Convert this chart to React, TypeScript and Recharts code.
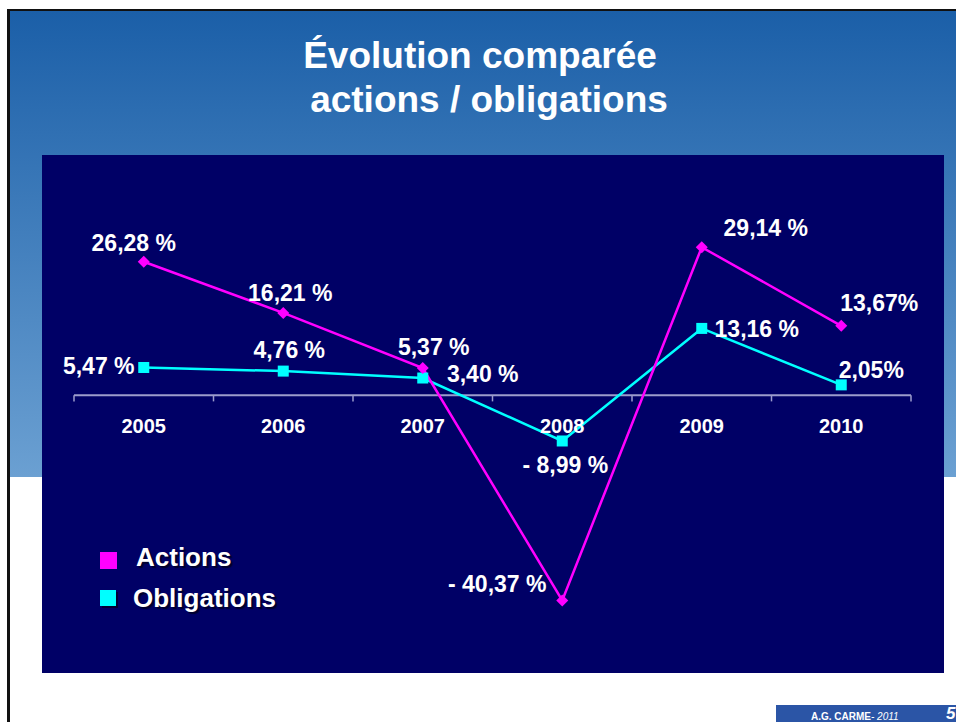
import { LabelList, Legend, Line, LineChart, ReferenceLine, XAxis, YAxis } from "recharts";

const YEARS = ["2005", "2006", "2007", "2008", "2009", "2010"];
const ACTIONS = [26.28, 16.21, 5.37, -40.37, 29.14, 13.67];
const OBLIGATIONS = [5.47, 4.76, 3.4, -8.99, 13.16, 2.05];
const ACTIONS_LABELS = ["26,28 %", "16,21 %", "5,37 %", "- 40,37 %", "29,14 %", "13,67%"];
const OBLIGATIONS_LABELS = ["5,47 %", "4,76 %", "3,40 %", "- 8,99 %", "13,16 %", "2,05%"];
const BOUNDARIES = [0, 1, 2, 3, 4, 5, 6];

// label placement relative to each point (dx, dy)
const ACTIONS_OFFSETS = [[-10, -19], [7, -20], [11, -21], [-65, -16], [64, -19], [38, -23]];
const OBLIGATIONS_OFFSETS = [[-45, -1], [6, -21], [60, -4], [3, 24], [55, 1], [30, -15]];

const MAGENTA = "#ff00ff";
const CYAN = "#00ffff";
const AXIS_COLOR = "#9c9ccc";
const FONT = '"Liberation Sans", Arial, sans-serif';

const data = YEARS.map((year, i) => ({
  year,
  pos: i + 0.5,
  actions: ACTIONS[i],
  obligations: OBLIGATIONS[i],
  zero: 0,
}));

const pointOf = (props: any) => ({
  x: props.x ?? props.viewBox?.x,
  y: props.y ?? props.viewBox?.y,
});

const makeValueLabel = (texts: string[], offsets: number[][]) => (props: any) => {
  const { index } = props;
  const { x, y } = pointOf(props);
  if (index == null || x == null || y == null) return null;
  const [dx, dy] = offsets[index];
  return (
    <text
      x={x + dx}
      y={y + dy}
      textAnchor="middle"
      dominantBaseline="central"
      fill="#ffffff"
      fontFamily={FONT}
      fontSize={23}
      fontWeight={700}
    >
      {texts[index]}
    </text>
  );
};

const renderYear = (props: any) => {
  const { index } = props;
  const { x, y } = pointOf(props);
  if (index == null || x == null || y == null) return null;
  return (
    <text
      x={x}
      y={y + 31}
      textAnchor="middle"
      dominantBaseline="central"
      fill="#ffffff"
      fontFamily={FONT}
      fontSize={20}
      fontWeight={700}
    >
      {YEARS[index]}
    </text>
  );
};

const DiamondDot = (props: any) => {
  const { cx, cy, index } = props;
  if (cx == null || cy == null) return null;
  return (
    <path
      key={`a-${index}`}
      d={`M${cx},${cy - 6} L${cx + 6},${cy} L${cx},${cy + 6} L${cx - 6},${cy} Z`}
      fill={MAGENTA}
    />
  );
};

const SquareDot = (props: any) => {
  const { cx, cy, index } = props;
  if (cx == null || cy == null) return null;
  return <rect key={`o-${index}`} x={cx - 5.5} y={cy - 5.5} width={11} height={11} fill={CYAN} />;
};

const legendText: React.CSSProperties = {
  position: "absolute",
  color: "#ffffff",
  fontFamily: FONT,
  fontSize: 26,
  fontWeight: 700,
  lineHeight: "30px",
  whiteSpace: "nowrap",
  textShadow: "2px 2px 1px rgba(0,0,30,0.8)",
};

const renderLegend = () => (
  <div style={{ position: "relative", width: 260, height: 80 }}>
    <div style={{ position: "absolute", left: 0, top: 0, width: 17, height: 17, background: MAGENTA }} />
    <div style={{ ...legendText, left: 36, top: -10 }}>Actions</div>
    <div
      style={{
        position: "absolute",
        left: 0,
        top: 38,
        width: 16,
        height: 16,
        background: CYAN,
        boxShadow: "2px 2px 0 #000033",
      }}
    />
    <div style={{ ...legendText, left: 33, top: 31 }}>Obligations</div>
  </div>
);

const titleStyle: React.CSSProperties = {
  position: "absolute",
  width: 400,
  textAlign: "center",
  color: "#ffffff",
  fontFamily: FONT,
  fontSize: 37,
  fontWeight: 700,
  lineHeight: "44px",
  whiteSpace: "nowrap",
};

export default function App() {
  return (
    <div
      style={{
        position: "absolute",
        left: 0,
        top: 0,
        width: 956,
        height: 722,
        overflow: "hidden",
        background: "#ffffff",
      }}
    >
      <div
        style={{
          position: "absolute",
          left: 7,
          top: 9,
          width: 960,
          height: 730,
          borderTop: "2px solid #111111",
          borderLeft: "3px solid #111111",
          background: "linear-gradient(to bottom, #1b5fa8 0px, #6ba0d2 466px, #ffffff 466px)",
        }}
      />
      <div style={{ ...titleStyle, left: 280, top: 34 }}>Évolution comparée</div>
      <div style={{ ...titleStyle, left: 289, top: 78 }}>actions / obligations</div>
      <div style={{ position: "absolute", left: 42, top: 155, width: 902, height: 518, background: "#000066" }}>
        <LineChart width={902} height={518} data={data} margin={{ top: 37, right: 33, bottom: 49, left: 32 }}>
          <XAxis type="number" dataKey="pos" domain={[0, 6]} hide />
          <YAxis type="number" domain={[-45, 40]} hide />
          <ReferenceLine y={0} stroke={AXIS_COLOR} strokeWidth={2} />
          {BOUNDARIES.map((b) => (
            <ReferenceLine
              key={b}
              segment={[
                { x: b, y: 0 },
                { x: b, y: -1.2 },
              ]}
              stroke={AXIS_COLOR}
              strokeWidth={1.5}
            />
          ))}
          <Line dataKey="zero" stroke="none" dot={false} activeDot={false} legendType="none" isAnimationActive={false}>
            <LabelList dataKey="zero" content={renderYear} />
          </Line>
          <Line
            dataKey="obligations"
            name="Obligations"
            stroke={CYAN}
            strokeWidth={2.5}
            dot={SquareDot}
            activeDot={false}
            isAnimationActive={false}
          >
            <LabelList dataKey="obligations" content={makeValueLabel(OBLIGATIONS_LABELS, OBLIGATIONS_OFFSETS)} />
          </Line>
          <Line
            dataKey="actions"
            name="Actions"
            stroke={MAGENTA}
            strokeWidth={2.5}
            dot={DiamondDot}
            activeDot={false}
            isAnimationActive={false}
          >
            <LabelList dataKey="actions" content={makeValueLabel(ACTIONS_LABELS, ACTIONS_OFFSETS)} />
          </Line>
          <Legend
            content={renderLegend}
            layout="vertical"
            align="center"
            verticalAlign="middle"
            wrapperStyle={{ left: 58, top: 397, width: 260 }}
          />
        </LineChart>
      </div>
      <div
        style={{
          position: "absolute",
          left: 776,
          top: 705,
          width: 200,
          height: 30,
          background: "#2b55a6",
          color: "#ffffff",
          fontFamily: FONT,
        }}
      >
        <span
          style={{
            position: "absolute",
            left: 35,
            top: 7,
            fontSize: 10,
            lineHeight: "10px",
            fontWeight: 700,
            whiteSpace: "nowrap",
          }}
        >
          A.G. CARME
          <span style={{ fontWeight: 400, fontStyle: "italic" }}>- 2011</span>
        </span>
        <span
          style={{
            position: "absolute",
            left: 170,
            top: 0,
            fontSize: 17,
            lineHeight: "17px",
            fontWeight: 700,
            fontStyle: "italic",
          }}
        >
          5
        </span>
      </div>
    </div>
  );
}
